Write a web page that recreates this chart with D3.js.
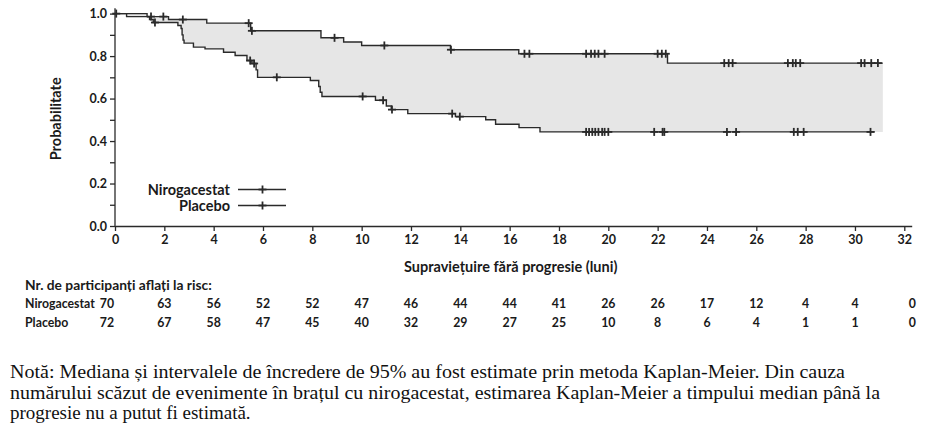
<!DOCTYPE html>
<html lang="ro">
<head>
<meta charset="UTF-8">
<script src="https://d3js.org/d3.v7.min.js"></script>
<style>
  body { margin: 0; background: #fff; }
  svg { display: block; }
  .sans { font-family: Lato, "Open Sans", sans-serif; font-weight: 700; fill: #1a1a1a; }
  .note { font-family: "Liberation Serif", "Times New Roman", serif; fill: #111; }
</style>
</head>
<body>
<div id="chart"></div>
<script>
// Data
const riskMonths = [0, 2, 4, 6, 8, 10, 12, 14, 16, 18, 20, 22, 24, 26, 28, 30, 32];
const nirogacestatRisk = [70, 63, 56, 52, 52, 47, 46, 44, 44, 41, 26, 26, 17, 12, 4, 4, 0];
const placeboRisk = [72, 67, 58, 47, 45, 40, 32, 29, 27, 25, 10, 8, 6, 4, 1, 1, 0];

// KM steps: [month, probability]
const nirogacestatSteps = [
  [0, 1], [1.3, 0.986], [2.17, 0.972], [3.72, 0.955], [5.5, 0.919], [8.35, 0.886],
  [9.27, 0.866], [10.0, 0.85], [13.6, 0.83], [16.37, 0.811], [22.4, 0.767]
];
const nirogacestatEnd = 31.13;
const nirogacestatCensor = [0.05, 1.46, 1.96, 2.75, 5.42, 5.55, 8.9, 10.92, 13.62, 16.6, 16.8,
  19.1, 19.3, 19.45, 19.6, 19.85, 22.0, 22.17, 22.33, 24.7, 24.88, 25.04,
  27.28, 27.48, 27.6, 27.78, 30.25, 30.39, 30.66, 30.93];

const placeboSteps = [
  [0, 1], [0.47, 0.986], [1.4, 0.972], [1.55, 0.958], [2.55, 0.944], [2.68, 0.93],
  [2.72, 0.9], [2.76, 0.875], [2.8, 0.861], [3.18, 0.842], [3.65, 0.834], [4.4, 0.818],
  [4.87, 0.803], [5.35, 0.779], [5.55, 0.765], [5.72, 0.735], [5.78, 0.70], [7.92, 0.685],
  [8.26, 0.657], [8.32, 0.63], [8.39, 0.61], [10.56, 0.592], [11.0, 0.565], [11.2, 0.548],
  [11.87, 0.529], [13.8, 0.515], [15.03, 0.5], [15.43, 0.479], [16.38, 0.463], [17.23, 0.443]
];
const placeboEnd = 30.8;
const placeboCensor = [1.62, 5.48, 5.64, 6.56, 10.04, 10.87, 11.23, 13.67, 13.98,
  19.1, 19.22, 19.35, 19.47, 19.6, 19.75, 19.85, 20.0, 21.86, 22.2, 22.27,
  24.81, 25.18, 27.52, 27.68, 27.92, 30.63];

const xTicks = d3.range(0, 33, 2);
const yTicks = d3.range(0, 1.01, 0.1);

const noteLines = [
  "Notă: Mediana și intervalele de încredere de 95% au fost estimate prin metoda Kaplan-Meier. Din cauza",
  "numărului scăzut de evenimente în brațul cu nirogacestat, estimarea Kaplan-Meier a timpului median până la",
  "progresie nu a putut fi estimată."
];

// Helpers
const valueAt = (steps, t) => {
  let v = steps[0][1];
  for (const s of steps) { if (s[0] <= t) v = s[1]; }
  return v;
};
const withEnd = (steps, end) => steps.concat([[end, steps[steps.length - 1][1]]]);

// Canvas
const width = 925, height = 438;
const svg = d3.select("#chart").append("svg")
  .attr("width", width).attr("height", height);

const x = d3.scaleLinear().domain([0, 32.3]).range([115, 911.7]);
const y = d3.scaleLinear().domain([0, 1.025]).range([226, 8.3]);

const ink = "#2a2a2a";

// Shaded band between curves
const bandTimes = Array.from(new Set(nirogacestatSteps.map(d => d[0])
  .concat(placeboSteps.map(d => d[0])))).sort((a, b) => a - b);
bandTimes.push(nirogacestatEnd);
const band = bandTimes.map(t => ({ t, hi: valueAt(nirogacestatSteps, t), lo: valueAt(placeboSteps, t) }));

svg.append("path")
  .datum(band)
  .attr("fill", "#e6e6e6")
  .attr("d", d3.area().curve(d3.curveStepAfter)
    .x(d => x(d.t)).y0(d => y(d.lo)).y1(d => y(d.hi)));

// Axes
const yAxis = svg.append("g")
  .attr("transform", `translate(${x(0)},0)`)
  .call(d3.axisLeft(y).tickValues(yTicks).tickSize(5).tickSizeOuter(0)
    .tickFormat(d => Math.round(d * 10) % 2 === 0 ? d3.format(".1f")(d) : ""));
yAxis.select(".domain").attr("d", `M0,${y(1.025)}V${y(0)}`);

const xAxis = svg.append("g")
  .attr("transform", `translate(0,${y(0)})`)
  .call(d3.axisBottom(x).tickValues(xTicks).tickSize(5).tickSizeOuter(0).tickFormat(d3.format("d")));

[yAxis, xAxis].forEach(a => {
  a.selectAll(".domain, line").attr("stroke", ink).attr("stroke-width", 1.3);
  a.selectAll("text").attr("class", "sans").attr("font-size", 12.5).attr("fill", "#1a1a1a");
});
yAxis.selectAll("text").attr("x", -8);
xAxis.selectAll("text").attr("y", 9);

// Curves
const line = d3.line().curve(d3.curveStepAfter).x(d => x(d[0])).y(d => y(d[1]));
const series = [
  { steps: nirogacestatSteps, end: nirogacestatEnd, censor: nirogacestatCensor },
  { steps: placeboSteps, end: placeboEnd, censor: placeboCensor }
];

const drawCensor = (g, cx, cy) => {
  g.append("line").attr("x1", cx).attr("x2", cx).attr("y1", cy - 4).attr("y2", cy + 4)
    .attr("stroke", ink).attr("stroke-width", 1.8);
  g.append("line").attr("x1", cx - 4).attr("x2", cx + 4).attr("y1", cy).attr("y2", cy)
    .attr("stroke", ink).attr("stroke-width", 1.8);
};

series.forEach(s => {
  svg.append("path")
    .datum(withEnd(s.steps, s.end))
    .attr("fill", "none")
    .attr("stroke", ink)
    .attr("stroke-width", 1.4)
    .attr("d", line);
  const g = svg.append("g");
  s.censor.forEach(t => drawCensor(g, x(t), y(valueAt(s.steps, t))));
});

// Axis titles
svg.append("text")
  .attr("class", "sans")
  .attr("transform", `translate(61,${y(0.5) - 1}) rotate(-90)`)
  .attr("text-anchor", "middle")
  .attr("font-size", 14.5)
  .text("Probabilitate");

svg.append("text")
  .attr("class", "sans")
  .attr("x", x(16) + 1).attr("y", 272)
  .attr("text-anchor", "middle")
  .attr("font-size", 14.5)
  .text("Supraviețuire fără progresie (luni)");

// Legend
const legendItems = ["Nirogacestat", "Placebo"];
const legend = svg.append("g");
legendItems.forEach((name, i) => {
  const ly = 189.5 + i * 16;
  legend.append("text")
    .attr("class", "sans")
    .attr("x", 230).attr("y", ly + 5)
    .attr("text-anchor", "end")
    .attr("font-size", 14.5)
    .text(name);
  legend.append("line")
    .attr("x1", 238).attr("x2", 286).attr("y1", ly).attr("y2", ly)
    .attr("stroke", ink).attr("stroke-width", 1.3);
  drawCensor(legend, 262.5, ly);
});

// Risk table
svg.append("text")
  .attr("class", "sans")
  .attr("x", 25).attr("y", 290)
  .attr("font-size", 13.8)
  .text("Nr. de participanți aflați la risc:");

const riskRows = [
  { name: "Nirogacestat", values: nirogacestatRisk, y: 308 },
  { name: "Placebo", values: placeboRisk, y: 327 }
];
riskRows.forEach(r => {
  svg.append("text")
    .attr("class", "sans")
    .attr("x", 25).attr("y", r.y)
    .attr("font-size", 12.3)
    .text(r.name);
  svg.append("g").selectAll("text")
    .data(r.values)
    .join("text")
    .attr("class", "sans")
    .attr("x", (d, i) => x(riskMonths[i]) + (i === 0 ? -8 : i === riskMonths.length - 1 ? 8 : 0))
    .attr("y", r.y)
    .attr("text-anchor", "middle")
    .attr("font-size", 12.3)
    .text(d => d);
});

// Note
const noteWidths = [835, 870, null];
const note = svg.append("text").attr("class", "note").attr("font-size", 19);
noteLines.forEach((l, i) => {
  const ts = note.append("tspan").attr("x", 10).attr("y", 378 + i * 20.5).text(l);
  if (noteWidths[i]) ts.attr("textLength", noteWidths[i]).attr("lengthAdjust", "spacingAndGlyphs");
});
</script>
</body>
</html>
